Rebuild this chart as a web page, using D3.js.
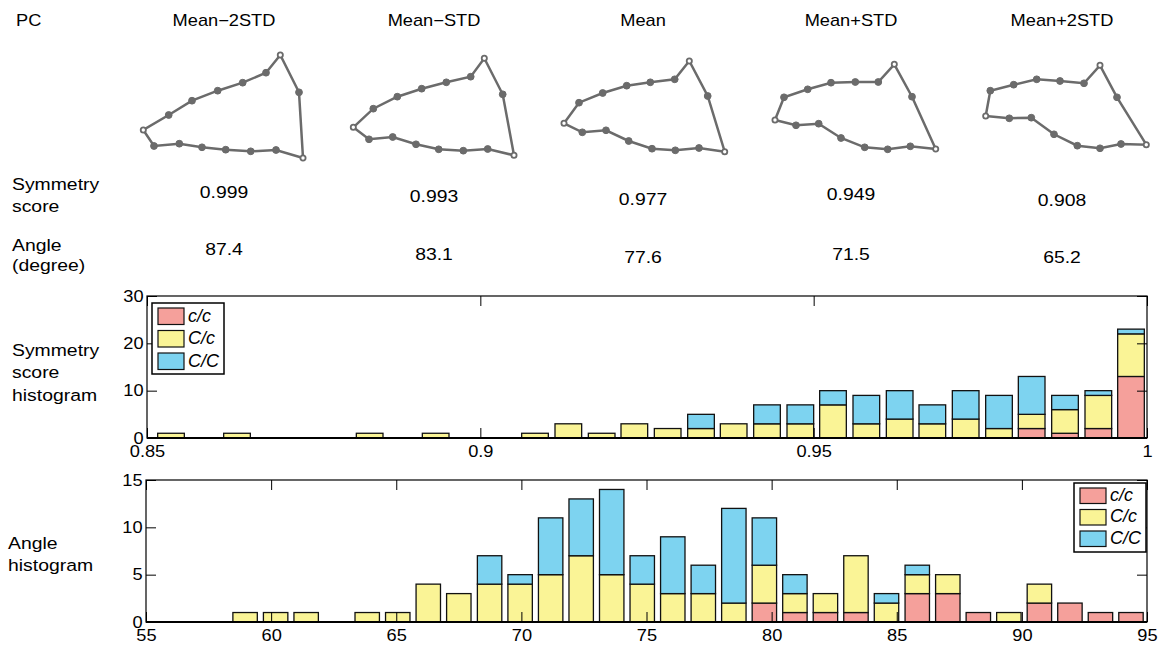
<!DOCTYPE html>
<html>
<head>
<meta charset="utf-8">
<title>PC shapes and histograms</title>
<script src="https://cdnjs.cloudflare.com/ajax/libs/d3/7.8.5/d3.min.js"></script>
<style>
body { margin: 0; background: #fff; }
svg { font-family: "Liberation Sans", Arial, Helvetica, sans-serif; }
.axis path { display: none; }
.axis line { stroke: #000; stroke-width: 1; }
.axis text { font-size: 16px; fill: #000; font-family: "Liberation Sans", Arial, sans-serif; }
</style>
</head>
<body>
<svg width="1162" height="646"></svg>
<script>
// ---- data ----
var pcLevels = ["Mean\u22122STD", "Mean\u2212STD", "Mean", "Mean+STD", "Mean+2STD"];
var symScores = ["0.999", "0.993", "0.977", "0.949", "0.908"];
var angleValues = ["87.4", "83.1", "77.6", "71.5", "65.2"];

// shape outlines, x relative to column centre, y in page units
var shapeX = [
  [-80.7, -70, -44.7, -22, 1.7, 26.7, 52, 79, 75, 56.3, 42, 18.7, -6.3, -32, -55.3],
  [-80.7, -65, -41.3, -18, 4.7, 29.3, 53.7, 80, 68.7, 50.3, 36.7, 12.3, -12.3, -36.7, -60.7],
  [-79, -60.7, -37, -14.3, 9, 32.3, 56, 81.7, 64.7, 46.3, 31.7, 7.3, -16.3, -40.3, -64],
  [-76, -55, -32.3, -10, 13.7, 36.7, 59.3, 84.7, 61, 43.3, 27.3, 4.3, -20, -43.3, -67],
  [-76.3, -52.7, -30.7, -8, 15.3, 38, 59, 84.3, 55, 38, 22, -2, -25.3, -48.3, -71.7]
];
var shapeY = [
  [130, 146, 143.7, 147.3, 149.7, 151.3, 150, 158, 92.3, 55, 72.7, 82.7, 90.7, 100.7, 115],
  [127.3, 139.3, 137, 144.3, 149.3, 150.7, 149, 155.3, 94.3, 58.3, 76.7, 82.3, 88.7, 96.7, 108.7],
  [123.3, 132.3, 130.3, 141, 148.7, 150.3, 148, 151.7, 96, 61, 79.3, 82.3, 85.7, 93, 102.7],
  [120, 125.3, 123.7, 138, 147.3, 149.3, 146.3, 149, 96.7, 64.3, 82, 82, 82.7, 89.3, 97.3],
  [116, 118.3, 117.7, 134.3, 145.7, 148.3, 144, 144.7, 97.3, 65.3, 83.3, 81, 79.3, 84.7, 90.7]
];
var landmarks = [0, 7, 9];

var genotypes = ["c/c", "C/c", "C/C"];
var genoColors = ["#f5a09b", "#faf496", "#7dd3f0"];

var symBins = [0.8536, 0.8586, 0.8635, 0.8685, 0.8735, 0.8784, 0.8834, 0.8884, 0.8933, 0.8983,
               0.9033, 0.9082, 0.9132, 0.9182, 0.9231, 0.9281, 0.9331, 0.9380, 0.9430, 0.9480,
               0.9529, 0.9579, 0.9629, 0.9678, 0.9728, 0.9778, 0.9827, 0.9877, 0.9927, 0.9976];
var symCc_small = [0,0,0,0,0,0,0,0,0,0, 0,0,0,0,0,0,0,0,0,0, 0,0,0,0,0,0,2,1,2,13];
var symCc_het   = [1,0,1,0,0,0,1,0,1,0, 0,1,3,1,3,2,2,3,3,3, 7,3,4,3,4,2,3,5,7,9];
var symCC_big   = [0,0,0,0,0,0,0,0,0,0, 0,0,0,0,0,0,3,0,4,4, 3,6,6,4,6,7,8,3,1,1];

var angleBins = [58.96, 60.18, 61.40, 62.62, 63.84, 65.06, 66.28, 67.50, 68.73, 69.95,
                 71.17, 72.39, 73.61, 74.83, 76.05, 77.27, 78.49, 79.71, 80.93, 82.15,
                 83.37, 84.59, 85.82, 87.04, 88.26, 89.48, 90.70, 91.92, 93.14, 94.36];
var angCc_small = [0,0,0,0,0,0,0,0,0,0, 0,0,0,0,0,0,0,2,1,1, 1,0,3,3,1,0,2,2,1,1];
var angCc_het   = [1,1,1,0,1,1,4,3,4,4, 5,7,5,4,3,3,2,4,2,2, 6,2,2,2,0,1,2,0,0,0];
var angCC_big   = [0,0,0,0,0,0,0,0,3,1, 6,6,9,3,6,3,10,5,2,0, 0,1,1,0,0,0,0,0,0,0];

var symXTicks = [0.85, 0.9, 0.95, 1];
var symYTicks = [0, 10, 20, 30];
var angXTicks = [55, 60, 65, 70, 75, 80, 85, 90, 95];
var angYTicks = [0, 5, 10, 15];

// ---- layout ----
var SX = 1.14;   // reference text is horizontally stretched
var colX = [224, 434, 643, 851, 1062];
var symDy = [198, 202, 205, 200, 206];
var angDy = [255, 260, 263, 260, 263];

var svg = d3.select("svg");

function label(x, y, s, size, anchor, italic) {
  return svg.append("text")
    .attr("transform", "translate(" + x + "," + y + ") scale(" + SX + ",1)")
    .attr("text-anchor", anchor || "start")
    .style("font-size", size + "px")
    .style("font-style", italic ? "italic" : null)
    .text(s);
}

// header row
label(16, 26, "PC", 16);
pcLevels.forEach(function(d, i) { label(colX[i], 26, d, 16, "middle"); });

// shapes
var shapeColor = "#6b6b6b";
pcLevels.forEach(function(d, i) {
  var sx = d3.scaleLinear().domain([-100, 100]).range([colX[i] - 100, colX[i] + 100]);
  var sy = d3.scaleLinear().domain([0, 200]).range([0, 200]);
  var pts = shapeX[i].map(function(x, k) { return [sx(x), sy(shapeY[i][k])]; });
  svg.append("path")
    .attr("d", d3.line().curve(d3.curveLinearClosed)(pts))
    .attr("fill", "none")
    .attr("stroke", shapeColor)
    .attr("stroke-width", 2.5);
  svg.selectAll(null).data(pts).enter().append("circle")
    .attr("cx", function(p) { return p[0]; })
    .attr("cy", function(p) { return p[1]; })
    .attr("r", function(p, k) { return landmarks.indexOf(k) >= 0 ? 2.6 : 3.4; })
    .attr("fill", function(p, k) { return landmarks.indexOf(k) >= 0 ? "#fff" : shapeColor; })
    .attr("stroke", shapeColor)
    .attr("stroke-width", function(p, k) { return landmarks.indexOf(k) >= 0 ? 1.8 : 1; });
});

// score / angle rows
label(12, 190, "Symmetry", 17);
label(12, 212, "score", 17);
label(12, 251, "Angle", 17);
label(12, 271, "(degree)", 17);
symScores.forEach(function(d, i) { label(colX[i], symDy[i], d, 17, "middle"); });
angleValues.forEach(function(d, i) { label(colX[i], angDy[i], d, 17, "middle"); });

// histogram helper
function histogram(opt) {
  var x = d3.scaleLinear().domain(opt.xDomain).range([opt.left, opt.right]);
  var y = d3.scaleLinear().domain(opt.yDomain).range([opt.bottom, opt.top]);
  var g = svg.append("g");

  var rows = opt.bins.map(function(b, i) {
    return { bin: b, "c/c": opt.counts[0][i], "C/c": opt.counts[1][i], "C/C": opt.counts[2][i] };
  });
  var series = d3.stack().keys(genotypes)(rows);
  var step = opt.bins[1] - opt.bins[0];
  var half = step * 0.4;

  series.forEach(function(s, si) {
    g.selectAll(null).data(s.filter(function(d) { return d[1] > d[0]; })).enter().append("rect")
      .attr("x", function(d) { return x(d.data.bin - half); })
      .attr("width", function(d) { return x(d.data.bin + half) - x(d.data.bin - half); })
      .attr("y", function(d) { return y(d[1]); })
      .attr("height", function(d) { return y(d[0]) - y(d[1]); })
      .attr("fill", genoColors[si])
      .attr("stroke", "#111")
      .attr("stroke-width", 1.3);
  });

  // ticks (inward, MATLAB box style)
  g.append("g").attr("class", "axis")
    .attr("transform", "translate(0," + opt.bottom + ")")
    .call(d3.axisBottom(x).tickValues(opt.xTicks).tickSize(-10).tickPadding(8).tickFormat(d3.format("")));
  g.append("g").attr("class", "axis")
    .attr("transform", "translate(0," + opt.top + ")")
    .call(d3.axisTop(x).tickValues(opt.xTicks).tickSize(-10).tickFormat(""));
  g.append("g").attr("class", "axis")
    .attr("transform", "translate(" + opt.left + ",0)")
    .call(d3.axisLeft(y).tickValues(opt.yTicks).tickSize(-10).tickPadding(3));
  g.append("g").attr("class", "axis")
    .attr("transform", "translate(" + opt.right + ",0)")
    .call(d3.axisRight(y).tickValues(opt.yTicks).tickSize(-10).tickFormat(""));
  g.selectAll(".axis text").attr("transform", "scale(" + SX + ",1)");

  g.append("rect")
    .attr("x", opt.left).attr("y", opt.top)
    .attr("width", opt.right - opt.left).attr("height", opt.bottom - opt.top)
    .attr("fill", "none").attr("stroke", "#000").attr("stroke-width", 1.2);
  g.append("line")
    .attr("x1", opt.left).attr("x2", opt.right)
    .attr("y1", opt.bottom).attr("y2", opt.bottom)
    .attr("stroke", "#000").attr("stroke-width", 2.2);

  // legend
  var L = opt.legend;
  g.append("rect")
    .attr("x", L.x).attr("y", L.y).attr("width", L.w).attr("height", L.h)
    .attr("fill", "#fff").attr("stroke", "#000").attr("stroke-width", 1.5);
  genotypes.forEach(function(gname, i) {
    var yy = L.y + 5 + i * L.row;
    g.append("rect")
      .attr("x", L.x + 6).attr("y", yy).attr("width", 26).attr("height", L.row - 6)
      .attr("fill", genoColors[i]).attr("stroke", "#111").attr("stroke-width", 1.2);
    g.append("text")
      .attr("x", L.x + 36).attr("y", yy + L.row - 9)
      .style("font-size", "18px").style("font-style", "italic")
      .text(gname);
  });
}

histogram({
  left: 147, right: 1147, top: 296, bottom: 438,
  xDomain: [0.85, 1], yDomain: [0, 30],
  xTicks: symXTicks, yTicks: symYTicks,
  bins: symBins, counts: [symCc_small, symCc_het, symCC_big],
  legend: { x: 152, y: 303, w: 72, h: 71, row: 22.5 }
});
label(12, 356, "Symmetry", 17);
label(12, 378, "score", 17);
label(12, 401, "histogram", 17);

histogram({
  left: 146, right: 1147, top: 480, bottom: 622,
  xDomain: [55, 95], yDomain: [0, 15],
  xTicks: angXTicks, yTicks: angYTicks,
  bins: angleBins, counts: [angCc_small, angCc_het, angCC_big],
  legend: { x: 1074, y: 483, w: 72, h: 69, row: 21.5 }
});
label(8, 549, "Angle", 17);
label(8, 571, "histogram", 17);
</script>
</body>
</html>
